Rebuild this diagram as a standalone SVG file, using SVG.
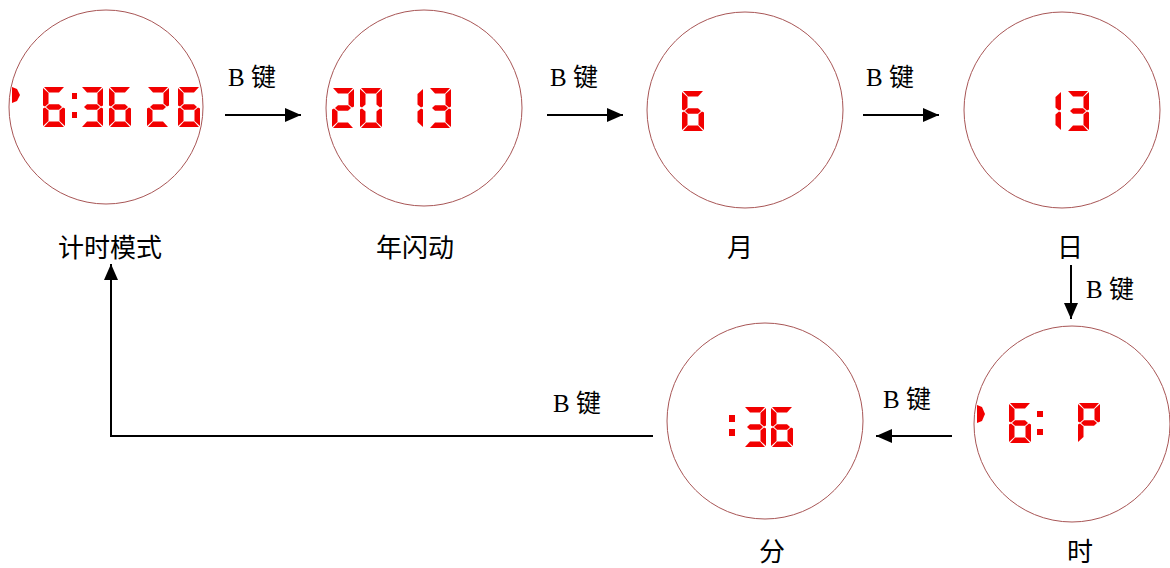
<svg xmlns="http://www.w3.org/2000/svg" xmlns:xlink="http://www.w3.org/1999/xlink" width="1170" height="568" viewBox="0 0 1170 568">
<style>
.dial{fill:#fff;stroke:#a85656;stroke-width:1}
.seg{fill:#f20000}
.lbl{font-family:"Liberation Serif","Noto Sans CJK SC",serif;font-size:25px;fill:#000}
.cap{font-family:"Noto Sans CJK SC","Liberation Serif",sans-serif;font-size:26px;fill:#000;text-anchor:middle}
.conn{fill:none;stroke:#000;stroke-width:2}
</style>
<defs>
<marker id="ah" viewBox="0 0 16 14" refX="16" refY="7" markerWidth="16" markerHeight="14" markerUnits="userSpaceOnUse" orient="auto">
<path d="M0,0 L16,7 L0,14 z" fill="#000"/>
</marker>
<polygon id="sa" points="1,0 21,0 16,5.5 6,5.5"/>
<polygon id="sb" points="22,1 22,18.5 20,19.5 16.5,16.5 16.5,6"/>
<polygon id="sc" points="22,21.5 22,39 16.5,34 16.5,23.5 20,20.5"/>
<polygon id="sd" points="6,34.5 16,34.5 21,40 1,40"/>
<polygon id="se" points="0,21.5 2,20.5 5.5,23.5 5.5,34 0,39"/>
<polygon id="sf" points="0,1 5.5,6 5.5,16.5 2,19.5 0,18.5"/>
<polygon id="sg" points="3,20 6,17.2 16,17.2 19,20 16,22.8 6,22.8"/>
<g id="d0"><use xlink:href="#sa"/><use xlink:href="#sb"/><use xlink:href="#sc"/><use xlink:href="#sd"/><use xlink:href="#se"/><use xlink:href="#sf"/></g>
<g id="d1"><use xlink:href="#sb"/><use xlink:href="#sc"/></g>
<g id="d2"><use xlink:href="#sa"/><use xlink:href="#sb"/><use xlink:href="#sg"/><use xlink:href="#se"/><use xlink:href="#sd"/></g>
<g id="d3"><use xlink:href="#sa"/><use xlink:href="#sb"/><use xlink:href="#sg"/><use xlink:href="#sc"/><use xlink:href="#sd"/></g>
<g id="d6"><use xlink:href="#sa"/><use xlink:href="#sf"/><use xlink:href="#sg"/><use xlink:href="#se"/><use xlink:href="#sc"/><use xlink:href="#sd"/></g>
<g id="dP"><use xlink:href="#sa"/><use xlink:href="#sb"/><use xlink:href="#sf"/><use xlink:href="#sg"/><use xlink:href="#se"/></g>
</defs>
<rect width="1170" height="568" fill="#fff"/>

<g id="node-timing">
<circle class="dial" cx="106" cy="107" r="97"/>
<g class="seg">
<polygon points="12,87 17,89 20,95 17,101 12,103"/>
<use xlink:href="#d6" transform="translate(43,87)"/>
<rect x="72" y="93" width="5" height="6"/><rect x="72" y="112" width="5" height="6"/>
<use xlink:href="#d3" transform="translate(81,87)"/>
<use xlink:href="#d6" transform="translate(109,87)"/>
<use xlink:href="#d2" transform="translate(147,87)"/>
<use xlink:href="#d6" transform="translate(178,87)"/>
</g>
<text class="cap" x="110" y="257">计时模式</text>
</g>

<g id="node-year">
<circle class="dial" cx="424" cy="108" r="98"/>
<g class="seg">
<use xlink:href="#d2" transform="translate(332,88)"/>
<use xlink:href="#d0" transform="translate(360,88)"/>
<use xlink:href="#d1" transform="translate(401,88)"/>
<use xlink:href="#d3" transform="translate(429,88)"/>
</g>
<text class="cap" x="415" y="257">年闪动</text>
</g>

<g id="node-month">
<circle class="dial" cx="745" cy="110" r="98"/>
<g class="seg">
<use xlink:href="#d6" transform="translate(682,91)"/>
</g>
<text class="cap" x="740" y="257">月</text>
</g>

<g id="node-day">
<circle class="dial" cx="1062" cy="110" r="98"/>
<g class="seg">
<use xlink:href="#d1" transform="translate(1039,91)"/>
<use xlink:href="#d3" transform="translate(1067,91)"/>
</g>
<text class="cap" x="1070" y="257">日</text>
</g>

<g id="node-hour">
<circle class="dial" cx="1072" cy="424" r="98"/>
<g class="seg">
<polygon points="977,405 982,407 985,414 982,421 977,423"/>
<use xlink:href="#d6" transform="translate(1009,403)"/>
<rect x="1037" y="411" width="6" height="6"/><rect x="1037" y="429" width="6" height="6"/>
<use xlink:href="#dP" transform="translate(1078,403)"/>
</g>
<text class="cap" x="1080" y="561">时</text>
</g>

<g id="node-minute">
<circle class="dial" cx="765" cy="421" r="98"/>
<g class="seg">
<rect x="729" y="415" width="6" height="7"/><rect x="729" y="429" width="6" height="7"/>
<use xlink:href="#d3" transform="translate(744,407)"/>
<use xlink:href="#d6" transform="translate(771,407)"/>
</g>
<text class="cap" x="772" y="561">分</text>
</g>

<g id="connectors">
<line class="conn" x1="225" y1="115" x2="301" y2="115" marker-end="url(#ah)"/>
<line class="conn" x1="547" y1="115" x2="623" y2="115" marker-end="url(#ah)"/>
<line class="conn" x1="863" y1="115" x2="939" y2="115" marker-end="url(#ah)"/>
<line class="conn" x1="1071" y1="265" x2="1071" y2="319" marker-end="url(#ah)"/>
<line class="conn" x1="952" y1="436" x2="876" y2="436" marker-end="url(#ah)"/>
<polyline class="conn" points="653,436 111,436 111,264" marker-end="url(#ah)"/>
<text class="lbl" x="228" y="86">B 键</text>
<text class="lbl" x="550" y="86">B 键</text>
<text class="lbl" x="866" y="86">B 键</text>
<text class="lbl" x="1086" y="298">B 键</text>
<text class="lbl" x="883" y="408">B 键</text>
<text class="lbl" x="553" y="412">B 键</text>
</g>
</svg>
